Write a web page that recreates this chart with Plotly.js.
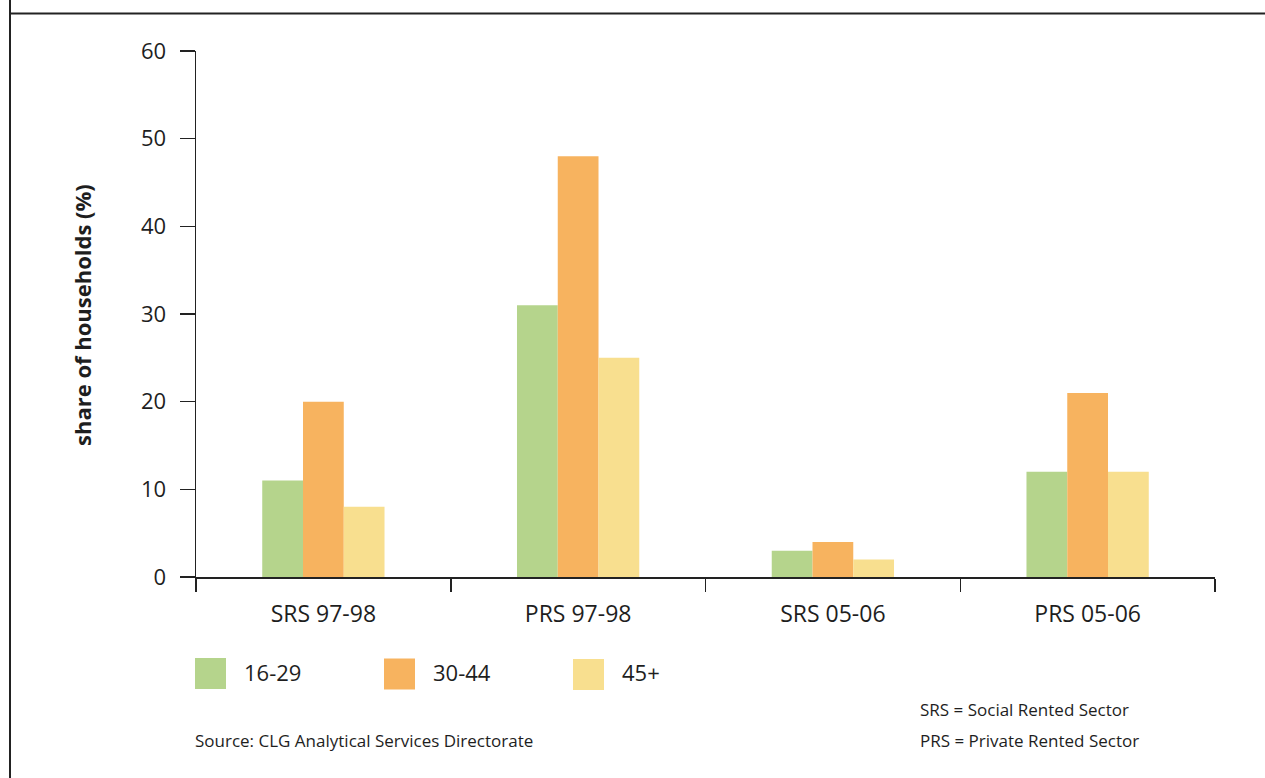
<!DOCTYPE html>
<html>
<head>
<meta charset="utf-8">
<script src="https://cdn.plot.ly/plotly-3.0.1.min.js"></script>
<style>
  html, body { margin: 0; padding: 0; background: #fff; }
  #chart { width: 1265px; height: 778px; }
</style>
</head>
<body>
<div id="chart"></div>
<script>
// Household share by tenure sector and age group of household reference person
const categories = ['SRS 97-98', 'PRS 97-98', 'SRS 05-06', 'PRS 05-06'];
const seriesNames = ['16-29', '30-44', '45+'];
const age16to29 = [11, 31, 3, 12];
const age30to44 = [20, 48, 4, 21];
const age45plus = [8, 25, 2, 12];
const seriesColors = ['#b5d48c', '#f7b35f', '#f8df8f'];
const yTicks = [0, 10, 20, 30, 40, 50, 60];

const FONT = '"Open Sans", "Noto Sans", sans-serif';
const INK = '#1e1e1e';

// Plot area in pixels
const W = 1265, H = 778;
const L = 196, R = 1215, T = 51, B = 577;
const px = x => (x - L) / (R - L);
const py = y => (B - y) / (B - T);

const values = [age16to29, age30to44, age45plus];
const traces = values.map((v, i) => ({
  type: 'bar',
  name: seriesNames[i],
  x: categories,
  y: v,
  marker: { color: seriesColors[i], line: { width: 0 } },
  hoverinfo: 'x+y+name',
  showlegend: false
}));

const shapes = [
  // page frame: left rule and top rule
  { type: 'line', xref: 'paper', yref: 'paper', x0: px(10), x1: px(10), y0: py(-2), y1: py(780),
    line: { color: '#222', width: 2 } },
  { type: 'line', xref: 'paper', yref: 'paper', x0: px(10), x1: px(1267), y0: py(13.5), y1: py(13.5),
    line: { color: '#222', width: 2 } }
];

const annotations = [
  { xref: 'paper', yref: 'paper', x: px(82), y: py(315), text: 'share of households (%)',
    textangle: -90, showarrow: false, xanchor: 'center', yanchor: 'middle',
    font: { family: FONT, size: 22, color: INK, weight: 700 } },
  { xref: 'paper', yref: 'paper', x: px(193), y: py(740), text: 'Source: CLG Analytical Services Directorate',
    showarrow: false, xanchor: 'left', yanchor: 'middle',
    font: { family: FONT, size: 17, color: INK } },
  { xref: 'paper', yref: 'paper', x: px(918), y: py(709), text: 'SRS = Social Rented Sector',
    showarrow: false, xanchor: 'left', yanchor: 'middle',
    font: { family: FONT, size: 17, color: INK } },
  { xref: 'paper', yref: 'paper', x: px(918), y: py(740), text: 'PRS = Private Rented Sector',
    showarrow: false, xanchor: 'left', yanchor: 'middle',
    font: { family: FONT, size: 17, color: INK } }
];

// Legend: large colour swatches with labels in a row under the axis
const legendX = [195, 384, 573];
seriesNames.forEach((name, i) => {
  const x0 = legendX[i];
  shapes.push({ type: 'rect', xref: 'paper', yref: 'paper',
    x0: px(x0), x1: px(x0 + 31), y0: py(658 + i * 0.5), y1: py(689 + i * 0.5),
    fillcolor: seriesColors[i], line: { width: 0 } });
  annotations.push({ xref: 'paper', yref: 'paper', x: px(x0 + 47), y: py(672), text: name,
    showarrow: false, xanchor: 'left', yanchor: 'middle',
    font: { family: FONT, size: 22, color: INK } });
});

const layout = {
  width: W, height: H,
  margin: { l: L, r: W - R, t: T, b: H - B, pad: 0 },
  paper_bgcolor: '#fff', plot_bgcolor: '#fff',
  barmode: 'group', bargap: 0.52, bargroupgap: 0,
  showlegend: false,
  font: { family: FONT, color: INK },
  xaxis: {
    type: 'category', range: [-0.5, 3.5],
    showline: true, linecolor: '#222', linewidth: 1.5,
    ticks: 'outside', tickson: 'boundaries', ticklen: 13, tickwidth: 1.5, tickcolor: '#222',
    ticklabelstandoff: 16,
    showgrid: false, zeroline: false,
    tickfont: { family: FONT, size: 23, color: INK }
  },
  yaxis: {
    range: [0, 60], tickvals: yTicks, ticktext: yTicks.map(String),
    showline: true, linecolor: '#222', linewidth: 1.5,
    ticks: 'outside', ticklen: 15, tickwidth: 1.5, tickcolor: '#222',
    ticklabelstandoff: 9,
    showgrid: false, zeroline: false,
    tickfont: { family: FONT, size: 22, color: INK }
  },
  shapes: shapes,
  annotations: annotations
};

Plotly.newPlot('chart', traces, layout, { displayModeBar: false, staticPlot: true });
</script>
</body>
</html>
